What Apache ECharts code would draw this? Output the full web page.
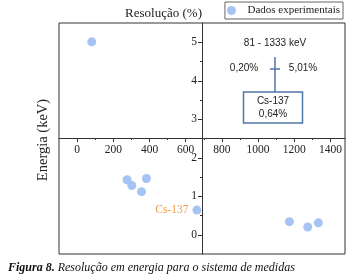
<!DOCTYPE html>
<html>
<head>
<meta charset="utf-8">
<script src="https://cdn.jsdelivr.net/npm/echarts@6/dist/echarts.min.js"></script>
<style>
  html, body { margin: 0; padding: 0; background: #fff; }
  #chart { width: 355px; height: 280px; }
</style>
</head>
<body>
<div id="chart"></div>
<script>
// energia (keV) e resolução (%)
const energias = [81, 276, 302, 356, 383, 662, 1173, 1274, 1333]
const resolucoes = [5.01, 1.43, 1.28, 1.12, 1.46, 0.64, 0.34, 0.2, 0.31]
const xMajor = [0, 200, 400, 600, 800, 1000, 1200, 1400]
const xMinor = [100, 300, 500, 700, 900, 1100, 1300]
const yMajor = [0, 1, 2, 3, 4, 5]
const yMinor = [0.5, 1.5, 2.5, 3.5, 4.5]

const serif = 'Liberation Serif'
const sans = 'Liberation Sans'
const azul = '#a7c3f3'
const linha = '#4f76a8'

const myChart = echarts.init(document.getElementById('chart'))

const xBase = {
    type: 'value',
    min: -100,
    max: 1480,
    position: 'bottom',
    offset: -116,
    splitLine: { show: false }
}
const yBase = {
    type: 'value',
    min: -0.5,
    max: 5.5,
    position: 'left',
    offset: -143,
    splitLine: { show: false }
}

const texto = (text, x, y) => ({
    type: 'text',
    x: x,
    y: y,
    style: { text: text, fontFamily: sans, fontSize: 10, fill: '#222', align: 'center', verticalAlign: 'middle' }
})

const option = {
    animation: false,
    grid: {
        left: 59,
        right: 10,
        top: 23,
        bottom: 26,
        show: true,
        borderColor: '#333',
        borderWidth: 1
    },
    legend: {
        right: 12,
        top: 2,
        padding: [3, 3, 3, 2],
        borderColor: '#666',
        borderWidth: 1,
        itemWidth: 22,
        itemHeight: 9,
        textStyle: { fontFamily: serif, fontSize: 11, color: '#222' },
        data: [{ name: 'Dados experimentais', icon: 'circle' }]
    },
    xAxis: [
        Object.assign({}, xBase, {
            axisLine: { onZero: false, lineStyle: { color: '#333', width: 1 } },
            axisTick: { customValues: xMajor, length: 4, lineStyle: { color: '#333' } },
            axisLabel: {
                customValues: xMajor,
                margin: 6,
                fontFamily: serif,
                fontSize: 11.5,
                color: '#222',
                formatter: (v) => String(v)
            }
        }),
        Object.assign({}, xBase, {
            axisLine: { show: false, onZero: false },
            axisTick: { customValues: xMinor, length: 2, lineStyle: { color: '#333' } },
            axisLabel: { show: false }
        })
    ],
    yAxis: [
        Object.assign({}, yBase, {
            name: 'Resolução (%)',
            nameLocation: 'end',
            nameGap: 3,
            nameTextStyle: {
                fontFamily: serif,
                fontSize: 13,
                color: '#222',
                align: 'right'
            },
            axisLine: { onZero: false, lineStyle: { color: '#333', width: 1 } },
            axisTick: { customValues: yMajor, length: 4, lineStyle: { color: '#333' } },
            axisLabel: {
                customValues: yMajor,
                margin: 5,
                fontFamily: serif,
                fontSize: 11.5,
                color: '#222',
                formatter: (v) => String(v)
            }
        }),
        Object.assign({}, yBase, {
            axisLine: { show: false, onZero: false },
            axisTick: { customValues: yMinor, length: 2, lineStyle: { color: '#333' } },
            axisLabel: { show: false }
        })
    ],
    series: [
        {
            name: 'Dados experimentais',
            type: 'scatter',
            symbolSize: 9,
            itemStyle: { color: azul, opacity: 1 },
            data: energias.map((e, i) => [e, resolucoes[i]]),
            label: {
                show: true,
                position: 'left',
                distance: 4,
                fontFamily: serif,
                fontSize: 11.5,
                color: '#f19a45',
                formatter: (p) => (p.value[0] === 662 ? 'Cs-137' : '')
            }
        }
    ],
    graphic: [
        {
            type: 'text',
            x: 43,
            y: 140,
            rotation: Math.PI / 2,
            style: {
                text: 'Energia (keV)',
                fontFamily: serif,
                fontSize: 14.5,
                fill: '#222',
                align: 'center',
                verticalAlign: 'middle'
            }
        },
        // caixa de resumo
        texto('81 - 1333 keV', 275, 43),
        texto('0,20%', 244, 68),
        texto('5,01%', 303, 68),
        {
            type: 'line',
            shape: { x1: 275, y1: 57, x2: 275, y2: 92 },
            style: { stroke: linha, lineWidth: 1.5 }
        },
        {
            type: 'line',
            shape: { x1: 270, y1: 69, x2: 280, y2: 69 },
            style: { stroke: linha, lineWidth: 1.5 }
        },
        {
            type: 'rect',
            shape: { x: 243.5, y: 92, width: 59, height: 31 },
            style: { fill: '#fff', stroke: linha, lineWidth: 1.5 }
        },
        texto('Cs-137', 273, 101),
        texto('0,64%', 273, 114),
        // legenda da figura
        {
            type: 'text',
            x: 8,
            y: 268,
            style: {
                text: '{b|Figura 8.} Resolução em energia para o sistema de medidas',
                fontFamily: serif,
                fontStyle: 'italic',
                fontSize: 12,
                fill: '#111',
                verticalAlign: 'middle',
                rich: {
                    b: { fontFamily: serif, fontStyle: 'italic', fontWeight: 'bold', fontSize: 12, fill: '#111' }
                }
            }
        }
    ]
}

myChart.setOption(option)
</script>
</body>
</html>
